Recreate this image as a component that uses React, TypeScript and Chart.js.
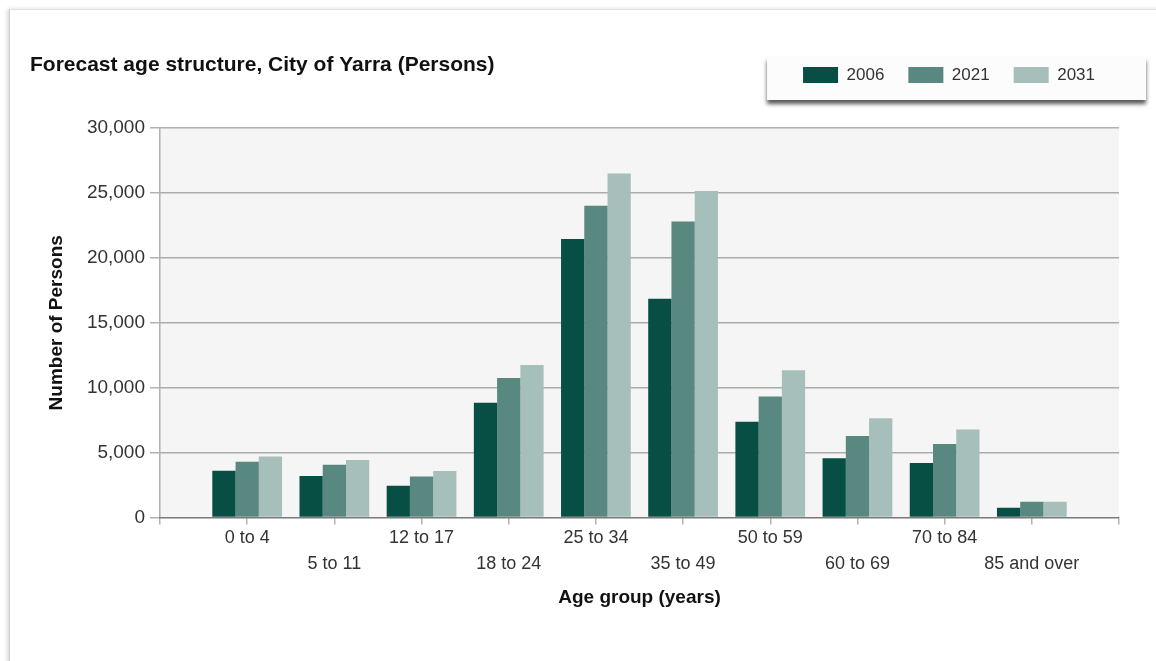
import React, { useEffect, useRef } from 'react';
import { Chart, registerables } from 'chart.js';

Chart.register(...registerables);

const categories = ['0 to 4', '5 to 11', '12 to 17', '18 to 24', '25 to 34', '35 to 49', '50 to 59', '60 to 69', '70 to 84', '85 and over'];
const seriesNames = ['2006', '2021', '2031'];
const values2006 = [3600, 3200, 2450, 8850, 21450, 16850, 7380, 4560, 4200, 760];
const values2021 = [4300, 4070, 3170, 10750, 24020, 22800, 9330, 6280, 5660, 1220];
const values2031 = [4700, 4430, 3580, 11750, 26500, 25150, 11350, 7640, 6780, 1220];
const yTickValues = [0, 5000, 10000, 15000, 20000, 25000, 30000];
const seriesColors = ['#074F44', '#58887F', '#A7BFBA'];

const FONT = '"Liberation Sans", Arial, sans-serif';
const GRID = 'rgba(0,0,0,0.3)';

const bgPlugin = {
  id: 'bgPlugin',
  beforeDraw(chart: any) {
    const { ctx, chartArea } = chart;
    ctx.save();
    ctx.fillStyle = '#f5f5f5';
    ctx.fillRect(chartArea.left, chartArea.top, chartArea.right - chartArea.left, chartArea.bottom - chartArea.top);
    const lg = chart.legend;
    if (lg && lg.legendHitBoxes && lg.legendHitBoxes.length) {
      const hb = lg.legendHitBoxes;
      const first = hb[0];
      const last = hb[hb.length - 1];
      const x0 = first.left - 36;
      const x1 = last.left + last.width + 51;
      const y0 = first.top - 9.5;
      const y1 = first.top + first.height + 16.5;
      ctx.shadowColor = 'rgba(0,0,0,0.65)';
      ctx.shadowBlur = 4;
      ctx.shadowOffsetY = 3.5;
      ctx.fillStyle = '#fcfcfc';
      ctx.fillRect(x0, y0, x1 - x0, y1 - y0);
    }
    ctx.restore();
  },
};

export default function App() {
  const canvasRef = useRef<HTMLCanvasElement | null>(null);

  useEffect(() => {
    document.body.style.margin = '0';
    const canvas = canvasRef.current;
    if (!canvas) return;
    const labels = ['', ...categories, ''];
    const pad = (arr: number[]) => [null, ...arr, null];
    const allValues = [values2006, values2021, values2031];
    const chart = new Chart(canvas, {
      type: 'bar',
      data: {
        labels,
        datasets: seriesNames.map((name, i) => ({
          label: name,
          data: pad(allValues[i]) as any,
          backgroundColor: seriesColors[i],
          borderWidth: 0,
          categoryPercentage: 0.8,
          barPercentage: 1.0,
        })),
      },
      options: {
        animation: false,
        responsive: false,
        events: [],
        layout: { padding: { left: 30, right: 37, top: 42.5, bottom: 51.6 } },
        plugins: {
          legend: {
            display: true,
            position: 'top',
            align: 'end',
            weight: 3000,
            labels: {
              boxWidth: 35,
              boxHeight: 16,
              padding: 24,
              color: '#333',
              font: { family: FONT, size: 17 },
            },
          } as any,
          title: {
            display: true,
            text: 'Forecast age structure, City of Yarra (Persons)',
            align: 'start',
            color: '#111',
            font: { family: FONT, size: 21, weight: 'bold', lineHeight: 1.2 },
            padding: { top: -41.1, bottom: 50.4 },
          } as any,
          tooltip: { enabled: false },
        },
        scales: {
          x: {
            type: 'category',
            offset: false,
            grid: {
              offset: false,
              display: true,
              drawOnChartArea: false,
              drawTicks: true,
              tickLength: 7,
              color: GRID,
              lineWidth: 1.5,
            },
            border: { display: true, color: GRID, width: 1.5 },
            ticks: {
              autoSkip: false,
              maxRotation: 0,
              minRotation: 0,
              padding: 0,
              color: '#333',
              font: { family: FONT, size: 18, lineHeight: 1.47 },
              callback: (_v: any, idx: number) => {
                const lab = labels[idx];
                if (!lab) return '';
                return (idx - 1) % 2 === 0 ? lab : ['', lab];
              },
            },
            title: {
              display: true,
              text: 'Age group (years)',
              color: '#111',
              font: { family: FONT, size: 19, weight: 'bold', lineHeight: 1.2 },
              padding: { top: 9.1, bottom: 0 },
            },
          },
          y: {
            min: 0,
            max: 30000,
            z: 1,
            afterFit: (scale: any) => {
              scale.width = 130;
            },
            afterBuildTicks: (scale: any) => {
              scale.ticks = yTickValues.map((v) => ({ value: v }));
            },
            grid: {
              color: GRID,
              lineWidth: 1.5,
              tickLength: 10,
              drawTicks: true,
            },
            border: { display: true, color: GRID, width: 1.5 },
            ticks: {
              padding: 5,
              color: '#333',
              font: { family: FONT, size: 19 },
              callback: (v: any) => Number(v).toLocaleString('en-US'),
            },
            title: {
              display: true,
              text: 'Number of Persons',
              color: '#111',
              font: { family: FONT, size: 19, weight: 'bold', lineHeight: 1.2 },
              padding: { top: 15.6, bottom: 0 },
            },
          },
        },
      } as any,
      plugins: [bgPlugin],
    });
    return () => chart.destroy();
  }, []);

  return (
    <div style={{ position: 'relative', width: 1156, height: 661, overflow: 'hidden', background: '#fff' }}>
      <div
        style={{
          position: 'absolute',
          left: 9,
          top: 9,
          width: 1200,
          height: 700,
          background: '#fff',
          borderTop: '1px solid #e2e2e2',
          borderLeft: '1px solid #d0d0d0',
          boxShadow: '-2px 0 4px rgba(0,0,0,0.15)',
        }}
      />
      <canvas
        ref={canvasRef}
        width={1156}
        height={661}
        style={{ position: 'absolute', left: 0, top: 0, display: 'block' }}
      />
    </div>
  );
}
